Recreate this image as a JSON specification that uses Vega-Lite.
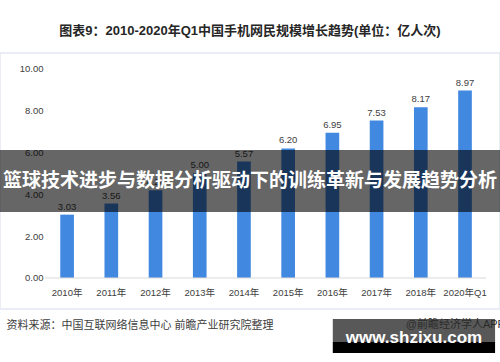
{
  "$schema": "https://vega.github.io/schema/vega-lite/v6.json",
  "width": 500,
  "height": 362,
  "autosize": {"type": "none"},
  "padding": 0,
  "background": "white",
  "config": {"view": {"stroke": null}, "font": "Liberation Sans, Noto Sans CJK SC"},
  "title": {
    "text": "图表9：2010-2020年Q1中国手机网民规模增长趋势(单位：亿人次)",
    "offset": -38,
    "fontSize": 13,
    "fontWeight": "bold",
    "color": "#262626",
    "font": "Liberation Sans, Noto Sans CJK SC",
    "anchor": "middle"
  },
  "datasets": {
    "bars": [
      {"year": "2010年", "value": 3.03},
      {"year": "2011年", "value": 3.56},
      {"year": "2012年", "value": 4.20},
      {"year": "2013年", "value": 5.00},
      {"year": "2014年", "value": 5.57},
      {"year": "2015年", "value": 6.20},
      {"year": "2016年", "value": 6.95},
      {"year": "2017年", "value": 7.53},
      {"year": "2018年", "value": 8.17},
      {"year": "2020年Q1", "value": 8.97}
    ],
    "one": [{}]
  },
  "layer": [
    {
      "data": {"name": "one"},
      "mark": {"type": "rect", "fillOpacity": 0, "stroke": "#e3e8f2", "strokeWidth": 1.5},
      "encoding": {
        "y": {"datum": 10.77, "type": "quantitative"},
        "y2": {"datum": -1.48}
      }
    },
    {
      "data": {"name": "bars"},
      "mark": {"type": "bar", "color": "#4088e0"},
      "encoding": {
        "x": {
          "field": "year",
          "type": "nominal",
          "sort": null,
          "scale": {
            "domain": ["2010年", "2011年", "2012年", "2013年", "2014年", "2015年", "2016年", "2017年", "2018年", "2020年Q1"],
            "paddingInner": 0.691,
            "paddingOuter": 1.1526,
            "align": 0.6816,
            "round": false
          },
          "axis": {
            "orient": "bottom",
            "offset": -83,
            "title": "资料来源：中国互联网络信息中心 前瞻产业研究院整理",
            "titleX": 6,
            "titleY": 46,
            "titleAlign": "left",
            "titleAnchor": "start",
            "titleBaseline": "middle",
            "titleFontSize": 11,
            "titleFontWeight": "normal",
            "titleColor": "#404040",
            "labelAngle": 0,
            "labelFontSize": 9.5,
            "labelColor": "#404040",
            "labelPadding": 8,
            "ticks": false,
            "tickSize": 0,
            "domain": false,
            "grid": false
          }
        },
        "y": {
          "field": "value",
          "type": "quantitative",
          "scale": {"domain": [-4.02, 13.3], "nice": false, "zero": false},
          "axis": {
            "orient": "left",
            "offset": -47,
            "values": [0, 1, 2, 3, 4, 5, 6, 7, 8, 9, 10],
            "format": ".2f",
            "title": null,
            "ticks": false,
            "tickSize": 0,
            "domain": false,
            "grid": false,
            "labelPadding": 4,
            "labelFontSize": 9.5,
            "labelColor": "#404040"
          }
        },
        "y2": {"datum": 0}
      }
    },
    {
      "data": {"name": "one"},
      "mark": {"type": "rule", "color": "#d9d9d9", "strokeWidth": 1},
      "encoding": {
        "x": {"datum": "2010年", "type": "nominal", "bandPosition": -1.1},
        "x2": {"datum": "2020年Q1", "bandPosition": 2.04},
        "y": {"datum": 0, "type": "quantitative"}
      }
    },
    {
      "data": {"name": "bars"},
      "mark": {"type": "text", "baseline": "bottom", "dy": -3, "fontSize": 9.5, "color": "#404040"},
      "encoding": {
        "x": {"field": "year", "type": "nominal", "sort": null},
        "y": {"field": "value", "type": "quantitative"},
        "text": {"field": "value", "type": "quantitative", "format": ".2f"}
      }
    },
    {
      "data": {"name": "one"},
      "mark": {"type": "rect", "color": "black", "opacity": 0.6},
      "encoding": {
        "y": {"datum": 6.12, "type": "quantitative"},
        "y2": {"datum": 3.16}
      }
    },
    {
      "data": {"name": "one"},
      "mark": {"type": "text", "text": "篮球技术进步与数据分析驱动下的训练革新与发展趋势分析", "baseline": "middle", "align": "center", "fontSize": 19, "fontWeight": "bold", "color": "white", "font": "Noto Sans CJK SC"},
      "encoding": {
        "y": {"datum": 4.64, "type": "quantitative"}
      }
    },
    {
      "data": {"name": "one"},
      "mark": {"type": "rect", "color": "#585858"},
      "encoding": {
        "x": {"datum": "2016年", "type": "nominal", "bandPosition": 0.53},
        "x2": {"datum": "2020年Q1", "bandPosition": 2.7},
        "y": {"datum": -1.96, "type": "quantitative"},
        "y2": {"datum": -3.06}
      }
    },
    {
      "data": {"name": "one"},
      "mark": {"type": "rect", "color": "black"},
      "encoding": {
        "x": {"datum": "2016年", "type": "nominal", "bandPosition": 0.53},
        "x2": {"datum": "2020年Q1", "bandPosition": 2.7},
        "y": {"datum": -3.06, "type": "quantitative"},
        "y2": {"datum": -3.59}
      }
    },
    {
      "data": {"name": "one"},
      "mark": {"type": "text", "text": "@前瞻经济学人APP", "align": "left", "baseline": "middle", "fontSize": 11, "color": "#2b2b2b"},
      "encoding": {
        "x": {"datum": "2018年", "type": "nominal", "bandPosition": -0.6},
        "y": {"datum": -2.25, "type": "quantitative"}
      }
    },
    {
      "data": {"name": "one"},
      "mark": {"type": "text", "text": "www.shzixu.com", "align": "center", "baseline": "alphabetic", "fontSize": 17, "fontWeight": "bold", "color": "white", "font": "Liberation Sans"},
      "encoding": {
        "x": {"datum": "2018年", "type": "nominal", "bandPosition": 0},
        "y": {"datum": -3.10, "type": "quantitative"}
      }
    }
  ]
}
